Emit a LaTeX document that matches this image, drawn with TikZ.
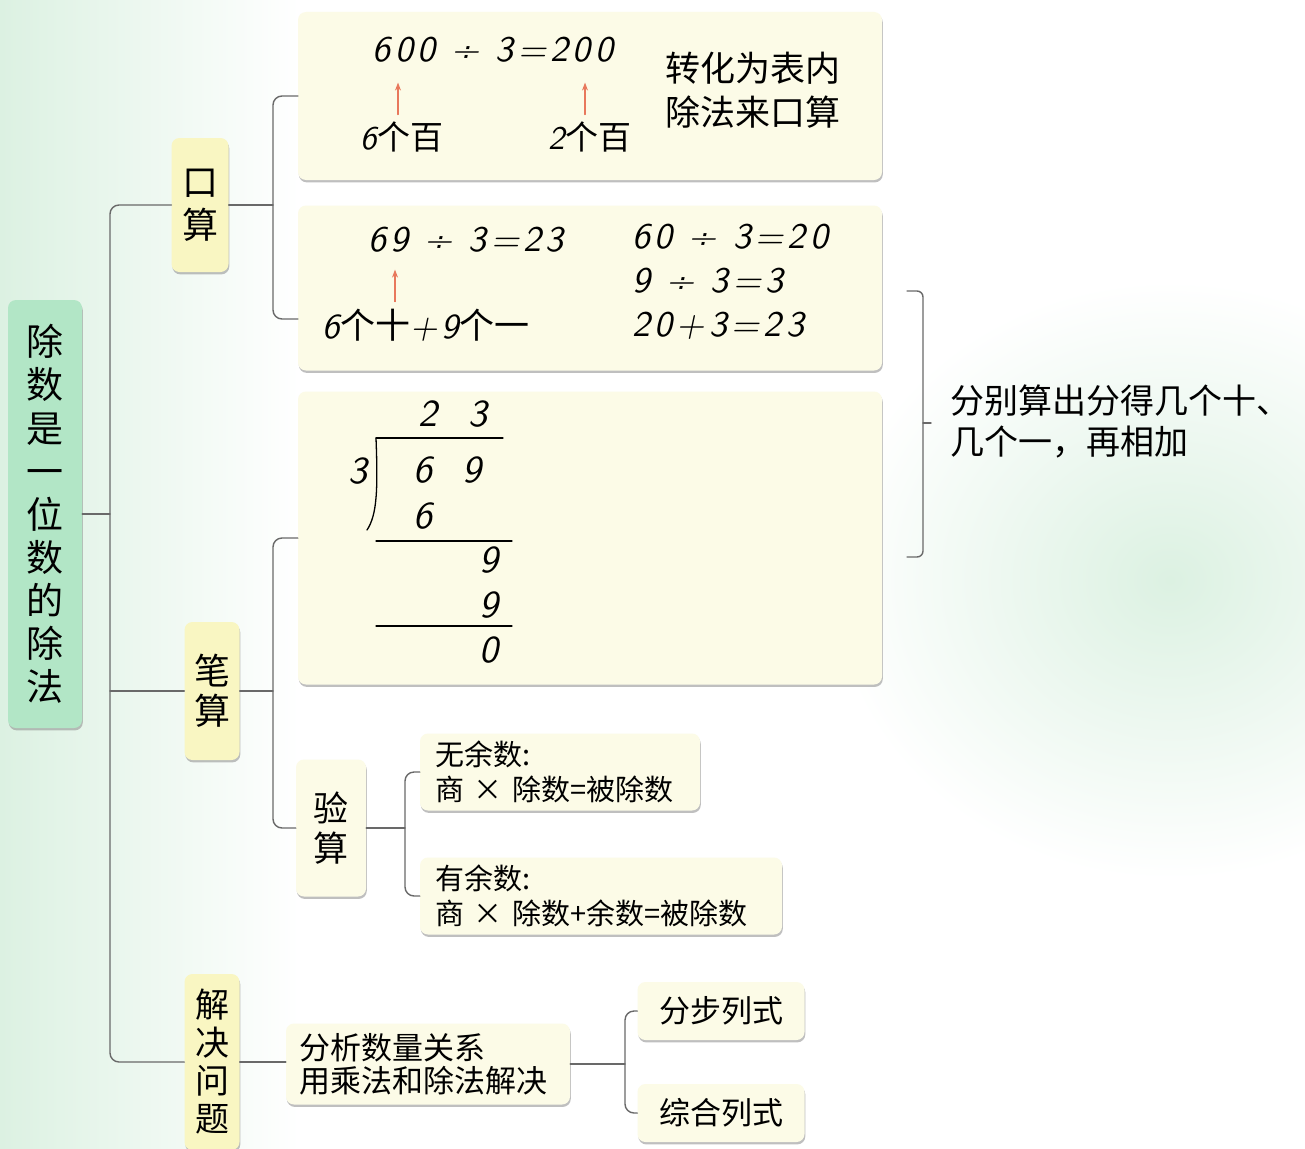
\documentclass[tikz,border=0pt]{standalone}
\usepackage{fontspec}
\setmainfont{Noto Sans CJK SC}
\newfontfamily\numf{lmsans10-oblique.otf}[LetterSpace=12]
\usetikzlibrary{arrows.meta,shadows}

\definecolor{rootgreen}{RGB}{178,230,198}
\definecolor{tagyellow}{RGB}{249,246,194}
\definecolor{panelcream}{RGB}{252,251,231}
\definecolor{linkgray}{RGB}{105,105,105}
\definecolor{arroworange}{RGB}{232,120,92}
\definecolor{bgmint}{RGB}{220,241,226}

\begin{document}
\begin{tikzpicture}[
  x=1pt,
  y=-1pt,
  line cap=round,
  line join=round,
  every node/.style={inner sep=0, text=black},
  boxshadow/.style={drop shadow={shadow xshift=0.8pt, shadow yshift=-2.4pt, fill=black!45, opacity=0.55}},
  rootbox/.style={fill=rootgreen, rounded corners=8, boxshadow, align=center, font=\fontsize{37}{43.1}\selectfont},
  tagbox/.style={fill=tagyellow, rounded corners=8, boxshadow, align=center},
  panel/.style={fill=panelcream, rounded corners=8, boxshadow},
  link/.style={draw=linkgray, line width=1.4, rounded corners=9},
  divline/.style={draw=black, line width=1.3},
  uparrow/.style={draw=arroworange, line width=1.1, -{Stealth[length=8,width=6]}},
  digit/.style={font=\numf\fontsize{38}{44}\selectfont},
  eqtext/.style={font=\numf\fontsize{36}{44}\selectfont},
  cjktext/.style={font=\fontsize{33}{40}\selectfont}
]
\path[use as bounding box] (0,0) rectangle (1305,1148);
\fill[white] (0,0) rectangle (1305,1148);
\fill[left color=bgmint, right color=white] (0,0) rectangle (300,1148);
\shade[inner color=bgmint, outer color=white] (1170,580) ellipse [x radius=340, y radius=300];

% Root and first-level tags
\node[rootbox, minimum width=74, minimum height=428] (root) at (45,514)
  {除\\数\\是\\一\\位\\数\\的\\除\\法};
\node[tagbox, minimum width=57, minimum height=134, font=\fontsize{36}{43}\selectfont] (kousuan) at (200,205) {口\\算};
\node[tagbox, minimum width=55, minimum height=138, font=\fontsize{36}{40}\selectfont] (bisuan) at (212,691) {笔\\算};
\node[tagbox, minimum width=55, minimum height=176, font=\fontsize{34}{38}\selectfont] (jiejue) at (212,1062) {解\\决\\问\\题};

% Panels
\node[panel, minimum width=584, minimum height=168] (ks1) at (590,96) {};
\node[panel, minimum width=584, minimum height=165] (ks2) at (590,288) {};
\node[panel, minimum width=584, minimum height=293] (bs1) at (590,538) {};
\node[panel, minimum width=70, minimum height=137, align=center, font=\fontsize{35}{40}\selectfont] (yansuan) at (331,828) {验\\算};
\node[panel, text width=250, inner xsep=15, minimum height=77, align=left, font=\fontsize{29}{35}\selectfont] (nores) at (560,772)
  {无余数:\\商 × 除数=被除数};
\node[panel, text width=332, inner xsep=15, minimum height=77, align=left, font=\fontsize{29}{35}\selectfont] (withres) at (601,896)
  {有余数:\\商 × 除数+余数=被除数};
\node[panel, text width=258, inner xsep=13, minimum height=81, align=left, font=\fontsize{31}{33}\selectfont] (fenxi) at (428,1064)
  {分析数量关系\\用乘法和除法解决};
\node[panel, minimum width=167, minimum height=58, font=\fontsize{31}{36}\selectfont] (fenbu) at (721,1011) {分步列式};
\node[panel, minimum width=167, minimum height=58, font=\fontsize{31}{36}\selectfont] (zonghe) at (721,1113) {综合列式};

% Oral calculation, hundreds
\node[eqtext] (eq600) at (493,50) {600 ÷ 3=200};
\node[cjktext] (hund6) at (402,137) {{\numf 6}个百};
\node[cjktext] (hund2) at (590,137) {{\numf 2}个百};
\node[font=\fontsize{35}{44}\selectfont, align=left] (ksnote) at (753,90) {转化为表内\\除法来口算};
\draw[uparrow] ([xshift=-4pt,yshift=7pt]hund6.north) -- ++(0,-32);
\draw[uparrow] ([xshift=-5pt,yshift=7pt]hund2.north) -- ++(0,-32);

% Oral calculation, tens and ones
\node[eqtext] (eq69) at (466,240) {69 ÷ 3=23};
\node[font=\fontsize{35}{40}\selectfont] (parts) at (426,325) {{\numf 6}个十{\numf +9}个一};
\node[eqtext, align=left, anchor=west] (steps) at (632,282) {60 ÷ 3=20\\9 ÷ 3=3\\20+3=23};
\draw[uparrow] ([xshift=-31pt,yshift=7pt]parts.north) -- ++(0,-32);

% Long division
\node[digit] (q2) at (428,414) {2};
\node[digit] (q3) at (478,414) {3};
\node[digit] (dvsr) at (358,471) {3};
\node[digit] (d6) at (423,470) {6};
\node[digit] (d9) at (472,470) {9};
\node[digit] (p6) at (423,516) {6};
\node[digit] (r9) at (489,560) {9};
\node[digit] (s9) at (489,605) {9};
\node[digit] (rem0) at (489,650) {0};
\draw[divline] (376,438) -- (503,438);
\draw[divline] (376,438) .. controls (378,490) and (377,515) .. (367,530);
\draw[divline] (376,541) -- (512,541);
\draw[divline] (376,626) -- (512,626);

% Note on the right
\node[anchor=west, align=left, font=\fontsize{34}{41}\selectfont] (splitnote) at (950,421)
  {分别算出分得几个十、\\几个一，再相加};
\draw[link, rounded corners=6] (907,291) -- (923,291) -- (923,557) -- (907,557);
\draw[link] (923,423) -- (931,423);

% Connectors
\coordinate (trunk) at (110,0);
\coordinate (fork1) at (273,0);
\coordinate (fork2) at (405,0);
\coordinate (fork3) at (625,0);
\coordinate (ks2low) at ([yshift=-31pt]ks2.west);

\draw[link] (root.east) -- (root.east -| trunk);
\draw[link] (kousuan.west) -- (kousuan.west -| trunk) -- (jiejue.west -| trunk) -- (jiejue.west);
\draw[link] (bisuan.west -| trunk) -- (bisuan.west);

\draw[link] (kousuan.east) -- (kousuan.east -| fork1);
\draw[link] (ks1.west) -- (ks1.west -| fork1) -- (ks2low -| fork1) -- (ks2low);

\draw[link] (bisuan.east) -- (bisuan.east -| fork1);
\draw[link] (bs1.west) -- (bs1.west -| fork1) -- (yansuan.west -| fork1) -- (yansuan.west);

\draw[link] (yansuan.east) -- (yansuan.east -| fork2);
\draw[link] (nores.west) -- (nores.west -| fork2) -- (withres.west -| fork2) -- (withres.west);

\draw[link] (jiejue.east) -- (jiejue.east -| fenxi.west);
\draw[link] (fenxi.east) -- (fenxi.east -| fork3);
\draw[link] (fenbu.west) -- (fenbu.west -| fork3) -- (zonghe.west -| fork3) -- (zonghe.west);

\end{tikzpicture}
\end{document}
